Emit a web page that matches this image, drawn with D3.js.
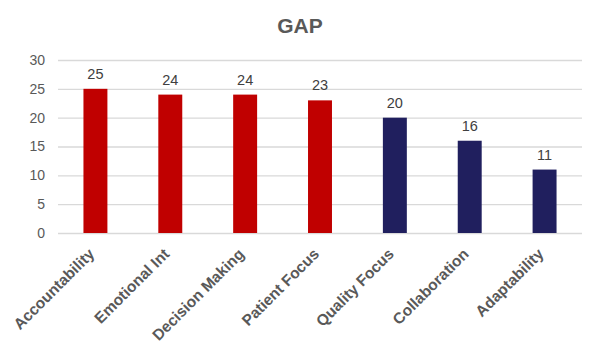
<!DOCTYPE html>
<html><head><meta charset="utf-8">
<script src="https://cdn.jsdelivr.net/npm/d3@7"></script>
<style>body{margin:0;background:#fff;} svg{display:block;font-family:"Liberation Sans",Arial,sans-serif;}</style>
</head><body>
<svg id="c" width="600" height="360"></svg>
<script>
const categories = ["Accountability","Emotional Int","Decision Making","Patient Focus","Quality Focus","Collaboration","Adaptability"];
const values = [25,24,24,23,20,16,11];
const groups = ["red","red","red","red","navy","navy","navy"];
const yTicks = [0,5,10,15,20,25,30];
const title = "GAP";

const svg = d3.select("#c");
const colors = {red:"#C00000", navy:"#201F5E"};
const x = d3.scaleBand().domain(categories).range([58,582]).paddingInner(0.68).paddingOuter(0.34);
const y = d3.scaleLinear().domain([0,30]).range([233,60]);

svg.append("text").attr("x",300).attr("y",33).attr("text-anchor","middle")
  .attr("font-size",21).attr("font-weight","bold").attr("fill","#595959").text(title);

const yAxis = d3.axisLeft(y).tickValues(yTicks).tickSize(-(582-58)).tickPadding(13);
const gy = svg.append("g").attr("transform","translate(58,0)").call(yAxis);
gy.select(".domain").remove();
gy.selectAll(".tick line").attr("stroke","#d9d9d9").attr("stroke-width",1.3);
gy.selectAll(".tick text").attr("font-size",14).attr("fill","#595959").attr("font-family","Liberation Sans, Arial, sans-serif");

svg.append("g").selectAll("rect").data(values).join("rect")
  .attr("x",(d,i)=>x(categories[i])).attr("width",x.bandwidth())
  .attr("y",d=>y(d)).attr("height",d=>y(0)-y(d))
  .attr("fill",(d,i)=>colors[groups[i]]);

svg.append("g").selectAll("text").data(values).join("text")
  .attr("x",(d,i)=>x(categories[i])+x.bandwidth()/2).attr("y",d=>y(d)-10)
  .attr("text-anchor","middle").attr("font-size",14.5).attr("fill","#404040").text(d=>d);

const xAxis = d3.axisBottom(x).tickSize(0).tickPadding(0);
const gx = svg.append("g").attr("transform","translate(0,233)").call(xAxis);
gx.select(".domain").remove();
gx.selectAll(".tick text")
  .attr("font-size",15.5).attr("font-weight","bold").attr("fill","#595959")
  .attr("font-family","Liberation Sans, Arial, sans-serif")
  .attr("text-anchor","end").attr("dy","0").attr("y",0)
  .attr("transform","translate(0,22) rotate(-45)");
</script>
</body></html>
